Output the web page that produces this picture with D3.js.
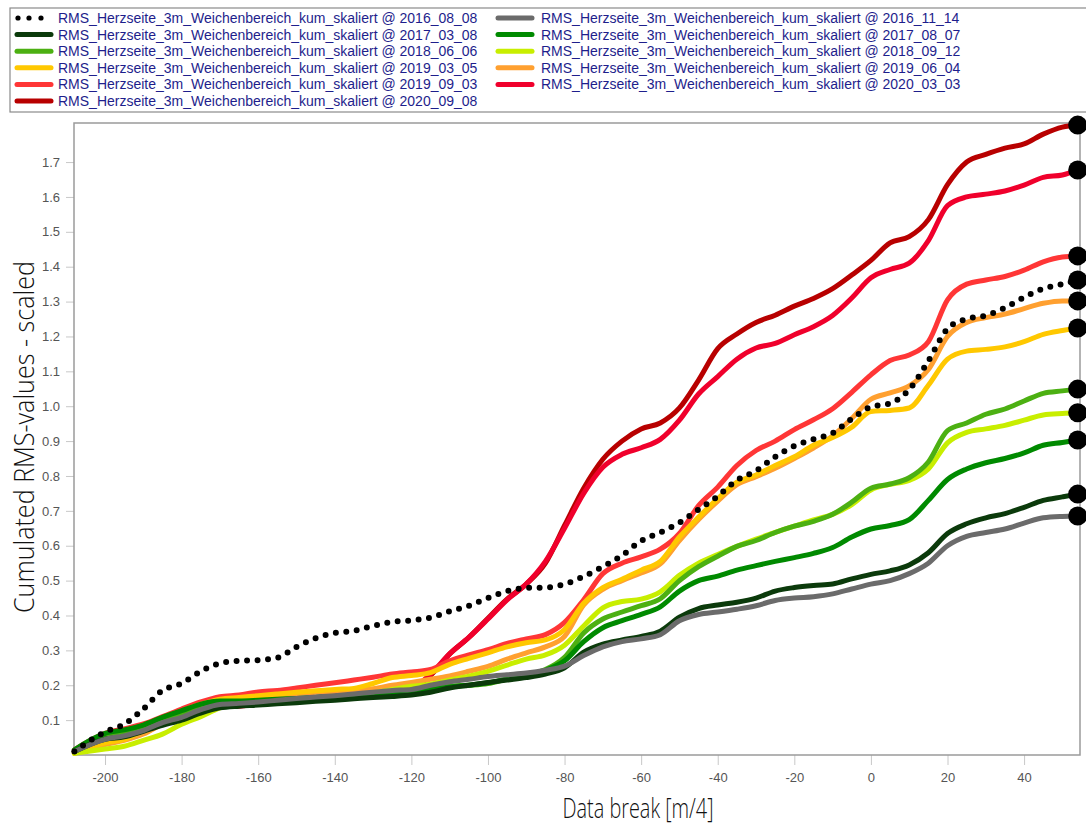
<!DOCTYPE html>
<html>
<head>
<meta charset="utf-8">
<script src="https://cdn.jsdelivr.net/npm/d3@7"></script>
<style>
  body { margin: 0; background: #fff; }
  svg { display: block; }
</style>
</head>
<body>
<script>
// data break positions [m/4]
const breaks = [-208, -200, -195, -190, -185, -180, -175, -170, -165, -160,
  -155, -150, -145, -140, -135, -130, -125, -120, -115, -110,
  -105, -100, -95, -90, -85, -80, -75, -70, -65, -60,
  -55, -50, -45, -40, -35, -30, -25, -20, -15, -10,
  -5, 0, 5, 10, 15, 20, 25, 30, 35, 40, 45, 50, 54];

const dates = ["2016_08_08", "2016_11_14", "2017_03_08", "2017_08_07", "2018_06_06", "2018_09_12",
  "2019_03_05", "2019_06_04", "2019_09_03", "2020_03_03", "2020_09_08"];

const s2016_08_08 = [0.010, 0.066, 0.088, 0.132, 0.185, 0.205, 0.240, 0.263, 0.270, 0.272,
  0.279, 0.310, 0.335, 0.350, 0.356, 0.370, 0.382, 0.386, 0.394, 0.412,
  0.428, 0.450, 0.470, 0.479, 0.480, 0.490, 0.512, 0.540, 0.572, 0.614,
  0.638, 0.666, 0.704, 0.742, 0.788, 0.815, 0.855, 0.886, 0.905, 0.923,
  0.964, 0.998, 1.008, 1.048, 1.130, 1.222, 1.250, 1.260, 1.282, 1.312, 1.337, 1.350, 1.362];
const s2016_11_14 = [0.010, 0.045, 0.055, 0.070, 0.093, 0.108, 0.130, 0.145, 0.148, 0.152,
  0.157, 0.162, 0.166, 0.170, 0.175, 0.180, 0.185, 0.188, 0.200, 0.210,
  0.217, 0.225, 0.230, 0.235, 0.243, 0.255, 0.285, 0.310, 0.325, 0.333,
  0.345, 0.385, 0.403, 0.410, 0.418, 0.428, 0.443, 0.450, 0.454, 0.462,
  0.476, 0.490, 0.500, 0.520, 0.550, 0.600, 0.627, 0.638, 0.648, 0.665, 0.680, 0.684, 0.685];
const s2017_03_08 = [0.010, 0.045, 0.052, 0.068, 0.085, 0.100, 0.120, 0.135, 0.140, 0.143,
  0.147, 0.150, 0.154, 0.157, 0.161, 0.165, 0.168, 0.172, 0.180, 0.192,
  0.200, 0.208, 0.215, 0.222, 0.232, 0.250, 0.295, 0.318, 0.330, 0.340,
  0.355, 0.395, 0.420, 0.430, 0.438, 0.450, 0.470, 0.480, 0.486, 0.490,
  0.505, 0.518, 0.528, 0.545, 0.580, 0.635, 0.663, 0.680, 0.692, 0.710, 0.730, 0.740, 0.748];
const s2017_08_07 = [0.015, 0.062, 0.072, 0.086, 0.108, 0.127, 0.146, 0.155, 0.155, 0.157,
  0.160, 0.162, 0.165, 0.168, 0.172, 0.175, 0.178, 0.180, 0.187, 0.195,
  0.200, 0.207, 0.218, 0.230, 0.243, 0.270, 0.325, 0.365, 0.385, 0.403,
  0.425, 0.470, 0.500, 0.513, 0.530, 0.543, 0.555, 0.566, 0.578, 0.595,
  0.625, 0.648, 0.658, 0.675, 0.730, 0.790, 0.820, 0.838, 0.850, 0.866, 0.888, 0.896, 0.903];
const s2018_06_06 = [0.010, 0.055, 0.065, 0.080, 0.100, 0.120, 0.140, 0.150, 0.152, 0.155,
  0.158, 0.160, 0.165, 0.168, 0.172, 0.175, 0.178, 0.180, 0.188, 0.197,
  0.200, 0.205, 0.218, 0.230, 0.245, 0.280, 0.350, 0.390, 0.410, 0.428,
  0.448, 0.500, 0.540, 0.570, 0.598, 0.615, 0.638, 0.656, 0.670, 0.690,
  0.725, 0.765, 0.777, 0.795, 0.840, 0.930, 0.952, 0.977, 0.992, 1.015, 1.037, 1.044, 1.049];
const s2018_09_12 = [0.005, 0.017, 0.025, 0.042, 0.060, 0.088, 0.110, 0.135, 0.148, 0.152,
  0.155, 0.158, 0.162, 0.166, 0.170, 0.178, 0.188, 0.197, 0.203, 0.215,
  0.226, 0.240, 0.258, 0.275, 0.287, 0.315, 0.370, 0.422, 0.440, 0.447,
  0.468, 0.515, 0.550, 0.575, 0.598, 0.619, 0.638, 0.656, 0.674, 0.690,
  0.718, 0.760, 0.776, 0.787, 0.820, 0.895, 0.925, 0.935, 0.945, 0.960, 0.975, 0.979, 0.981];
const s2019_03_05 = [0.005, 0.035, 0.045, 0.070, 0.095, 0.125, 0.145, 0.160, 0.165, 0.170,
  0.175, 0.180, 0.184, 0.188, 0.191, 0.205, 0.222, 0.228, 0.236, 0.260,
  0.277, 0.293, 0.310, 0.322, 0.330, 0.360, 0.435, 0.480, 0.504, 0.530,
  0.555, 0.625, 0.682, 0.735, 0.782, 0.803, 0.830, 0.855, 0.888, 0.910,
  0.940, 0.985, 0.988, 0.995, 1.060, 1.135, 1.158, 1.163, 1.170, 1.185, 1.206, 1.217, 1.224];
const s2019_06_04 = [0.005, 0.030, 0.042, 0.060, 0.090, 0.118, 0.140, 0.155, 0.160, 0.165,
  0.170, 0.175, 0.180, 0.183, 0.187, 0.190, 0.200, 0.208, 0.217, 0.227,
  0.240, 0.254, 0.275, 0.293, 0.310, 0.340, 0.430, 0.475, 0.500, 0.522,
  0.548, 0.615, 0.675, 0.728, 0.775, 0.798, 0.822, 0.850, 0.880, 0.915,
  0.965, 1.020, 1.038, 1.058, 1.105, 1.200, 1.240, 1.254, 1.264, 1.280, 1.295, 1.302, 1.302];
const s2019_09_03 = [0.015, 0.062, 0.075, 0.089, 0.110, 0.132, 0.152, 0.167, 0.172, 0.181,
  0.185, 0.192, 0.200, 0.207, 0.215, 0.223, 0.232, 0.238, 0.245, 0.270,
  0.287, 0.302, 0.320, 0.333, 0.345, 0.380, 0.445, 0.520, 0.550, 0.568,
  0.590, 0.635, 0.715, 0.768, 0.830, 0.873, 0.900, 0.933, 0.961, 0.993,
  1.040, 1.090, 1.131, 1.147, 1.185, 1.305, 1.350, 1.362, 1.372, 1.390, 1.414, 1.428, 1.431];
const s2020_03_03 = [0.010, 0.045, 0.058, 0.072, 0.092, 0.112, 0.130, 0.140, 0.140, 0.148,
  0.153, 0.158, 0.163, 0.168, 0.173, 0.178, 0.183, 0.190, 0.232, 0.290,
  0.337, 0.390, 0.445, 0.490, 0.555, 0.650, 0.750, 0.825, 0.862, 0.881,
  0.905, 0.960, 1.035, 1.085, 1.135, 1.167, 1.180, 1.205, 1.228, 1.260,
  1.310, 1.368, 1.392, 1.410, 1.475, 1.575, 1.600, 1.608, 1.617, 1.634, 1.656, 1.663, 1.677];
const s2020_09_08 = [0.010, 0.045, 0.060, 0.075, 0.095, 0.115, 0.135, 0.145, 0.145, 0.150,
  0.155, 0.160, 0.165, 0.170, 0.175, 0.180, 0.185, 0.190, 0.228, 0.290,
  0.337, 0.392, 0.447, 0.490, 0.550, 0.658, 0.765, 0.848, 0.900, 0.935,
  0.952, 0.995, 1.075, 1.165, 1.207, 1.240, 1.261, 1.287, 1.309, 1.337,
  1.376, 1.418, 1.468, 1.486, 1.535, 1.635, 1.700, 1.722, 1.740, 1.752, 1.780, 1.800, 1.806];

const allValues = [s2016_08_08, s2016_11_14, s2017_03_08, s2017_08_07, s2018_06_06, s2018_09_12,
  s2019_03_05, s2019_06_04, s2019_09_03, s2020_03_03, s2020_09_08];

const xTicks = [-200, -180, -160, -140, -120, -100, -80, -60, -40, -20, 0, 20, 40];
const yTicks = [0.1, 0.2, 0.3, 0.4, 0.5, 0.6, 0.7, 0.8, 0.9, 1.0, 1.1, 1.2, 1.3, 1.4, 1.5, 1.6, 1.7];

// line colours, same order as dates
const colors = ["#000000", "#6b6b6b", "#0b3a0b", "#008a00", "#4cb012", "#c8ee00",
  "#ffc800", "#ffa030", "#ff3636", "#f0002c", "#b80000"];

const prefix = "RMS_Herzseite_3m_Weichenbereich_kum_skaliert @ ";

const width = 1086, height = 826;
const plot = {left: 74, right: 1080, top: 123, bottom: 755};

const series = dates.map((d, i) => ({
  date: d,
  color: colors[i],
  dotted: i == 0,
  values: breaks.map((b, j) => ({x: b, y: allValues[i][j]}))
}));

const svg = d3.select("body").append("svg")
  .attr("width", width)
  .attr("height", height)
  .style("font-family", "Arial, 'Liberation Sans', sans-serif");

svg.append("rect").attr("width", width).attr("height", height).attr("fill", "#fff");

const x = d3.scaleLinear().domain([-208.1, 54.6]).range([plot.left, plot.right]);
const y = d3.scaleLinear().domain([0, 1.812]).range([plot.bottom, plot.top]);

// axes
const gy = svg.append("g")
  .attr("transform", `translate(${plot.left},0)`)
  .call(d3.axisLeft(y).tickValues(yTicks).tickFormat(d3.format(".1f")).tickSize(8).tickPadding(6));
const gx = svg.append("g")
  .attr("transform", `translate(0,${plot.bottom})`)
  .call(d3.axisBottom(x).tickValues(xTicks).tickFormat(d => d).tickSize(10).tickPadding(8));
[gx, gy].forEach(g => {
  g.select(".domain").remove();
  g.selectAll(".tick line").attr("stroke", "#c8c8c8");
  g.selectAll(".tick text").attr("fill", "#555").style("font-size", "13px");
});

// frame
svg.append("rect")
  .attr("x", plot.left).attr("y", plot.top)
  .attr("width", plot.right - plot.left).attr("height", plot.bottom - plot.top)
  .attr("fill", "none").attr("stroke", "#9a9a9a").attr("stroke-width", 1.5);

const line = d3.line()
  .x(d => x(d.x))
  .y(d => y(d.y))
  .curve(d3.curveMonotoneX);

// latest dates drawn first, the dotted reference on top
const order = series.slice(1).reverse().concat([series[0]]);
svg.append("g").selectAll("path")
  .data(order)
  .join("path")
  .attr("d", d => line(d.values))
  .attr("fill", "none")
  .attr("stroke", d => d.color)
  .attr("stroke-width", d => d.dotted ? 6 : 5)
  .attr("stroke-linecap", "round")
  .attr("stroke-linejoin", "round")
  .attr("stroke-dasharray", d => d.dotted ? "0 10.5" : null);

// end markers
svg.append("g").selectAll("circle")
  .data(series)
  .join("circle")
  .attr("cx", d => x(d.values[d.values.length - 1].x))
  .attr("cy", d => y(d.values[d.values.length - 1].y))
  .attr("r", 9.5)
  .attr("fill", "#000");

// axis titles
svg.append("text")
  .attr("x", 638).attr("y", 818)
  .attr("text-anchor", "middle")
  .attr("textLength", 151).attr("lengthAdjust", "spacingAndGlyphs")
  .style("font-family", "'Open Sans', sans-serif")
  .style("font-size", "28px").style("font-weight", 300)
  .attr("fill", "#111")
  .text("Data break [m/4]");

svg.append("text")
  .attr("transform", "translate(34,437) rotate(-90)")
  .attr("text-anchor", "middle")
  .attr("textLength", 352).attr("lengthAdjust", "spacingAndGlyphs")
  .style("font-family", "'Open Sans', sans-serif")
  .style("font-size", "28px").style("font-weight", 300)
  .attr("fill", "#111")
  .text("Cumulated RMS-values - scaled");

// legend
const lg = svg.append("g");
lg.append("rect")
  .attr("x", 10).attr("y", 8).attr("width", 1100).attr("height", 104)
  .attr("fill", "#fff").attr("stroke", "#8a8a8a").attr("stroke-width", 1.2);

const item = lg.selectAll("g.item")
  .data(series)
  .join("g")
  .attr("class", "item")
  .attr("transform", (d, i) => `translate(${i % 2 == 0 ? 17 : 498},${18 + Math.floor(i / 2) * 16.6})`);

item.filter(d => !d.dotted).append("line")
  .attr("x1", 0).attr("x2", 34)
  .attr("stroke", d => d.color)
  .attr("stroke-width", 5)
  .attr("stroke-linecap", "round");

item.filter(d => d.dotted).selectAll("circle")
  .data([1, 12, 24])
  .join("circle")
  .attr("cx", d => d).attr("r", 2.6).attr("fill", "#000");

item.append("text")
  .attr("x", (d, i) => i % 2 == 0 ? 41 : 43)
  .attr("y", 5)
  .attr("fill", "#1e1e8c")
  .style("font-size", "14px")
  .text(d => prefix + d.date);
</script>
</body>
</html>
